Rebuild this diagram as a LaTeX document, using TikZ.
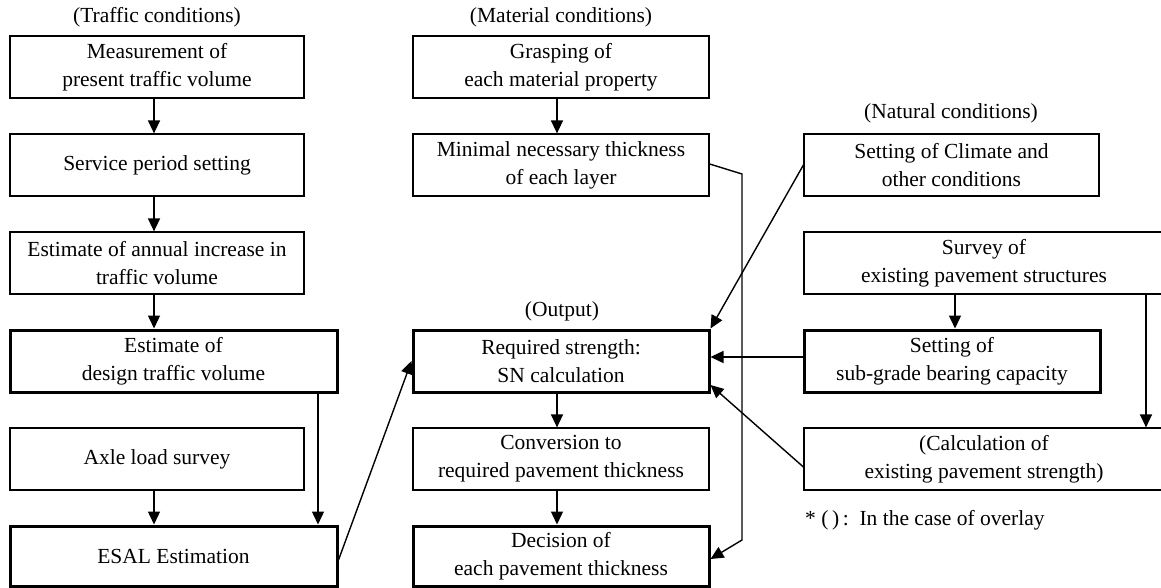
\documentclass[tikz,border=0pt]{standalone}
\usepackage{fontspec}
\setmainfont{Liberation Serif}
\usetikzlibrary{arrows.meta}
\tikzset{
  box/.style={draw, line width=1.2pt, rectangle, inner sep=0pt, align=center,
    font=\fontsize{21.5}{28}\selectfont, minimum height=62pt},
  thickbox/.style={box, line width=3pt},
  lbl/.style={inner sep=0pt, font=\fontsize{21.5}{28}\selectfont},
  arr/.style={line width=1.4pt, -{Triangle[length=13pt,width=12pt]}}
}
\begin{document}
\begin{tikzpicture}[x=1pt,y=-1pt]
\useasboundingbox (0,0) rectangle (1161,588);
\clip (0,0) rectangle (1161,588);
% labels
\node[lbl] (lt) at (157,17) {(Traffic conditions)};
\node[lbl] (lm) at (561,17) {(Material conditions)};
\node[lbl] (ln) at (951,113) {(Natural conditions)};
\node[lbl] (lo) at (562,311) {(Output)};
\node[lbl, anchor=west] (note) at (805,520) {* (\,)\,:\ \ In the case of overlay};
% traffic column
\node[box, minimum width=294pt] (t1) at (157,67) {Measurement of\\present traffic volume};
\node[box, minimum width=294pt] (t2) at (157,165) {Service period setting};
\node[box, minimum width=294pt] (t3) at (157,263) {Estimate of annual increase in\\traffic volume};
\node[thickbox, minimum width=327pt] (t4) at (173.5,361) {Estimate of\\design traffic volume};
\node[box, minimum width=294pt] (t5) at (157,459) {Axle load survey};
\node[thickbox, minimum width=327pt, minimum height=60pt] (t6) at (173.5,556) {ESAL Estimation};
% material / output column
\node[box, minimum width=296pt] (m1) at (561,67) {Grasping of\\each material property};
\node[box, minimum width=296pt] (m2) at (561,165) {Minimal necessary thickness\\of each layer};
\node[thickbox, minimum width=296pt] (m3) at (561,361) {Required strength:\\SN calculation};
\node[box, minimum width=296pt] (m4) at (561,459) {Conversion to\\required pavement thickness};
\node[thickbox, minimum width=296pt, minimum height=60pt] (m5) at (561,556) {Decision of\\each pavement thickness};
% natural column
\node[box, minimum width=295pt] (n1) at (951.5,165) {Setting of Climate and\\other conditions};
\node[box, minimum width=360pt] (n2) at (984,263) {Survey of\\existing pavement structures};
\node[thickbox, minimum width=296pt] (n3) at (952,361) {Setting of\\sub-grade bearing capacity};
\node[box, minimum width=360pt] (n4) at (984,459) {(Calculation of\\existing pavement strength)};
% helper coordinates
\coordinate (c1) at (318,0);
\coordinate (c2) at (955,0);
\coordinate (c3) at (1146,0);
\coordinate (k1) at (742,174);
\coordinate (k2) at (742,540);
% connectors
\draw[arr] ([xshift=-3pt]t1.south) -- ([xshift=-3pt]t2.north);
\draw[arr] ([xshift=-3pt]t2.south) -- ([xshift=-3pt]t3.north);
\draw[arr] ([xshift=-3pt]t3.south) -- ([xshift=-3pt]t4.north west -| t1.south);
\draw[arr] (t4.south -| c1) -- (t6.north -| c1);
\draw[arr] ([xshift=-3pt]t5.south) -- ([xshift=-3pt]t6.north -| t5.south);
\draw[arr] ([yshift=-4pt]t6.east) -- (m3.west);
\draw[arr] ([xshift=-4pt]m1.south) -- ([xshift=-4pt]m2.north);
\draw[arr] ([xshift=-4pt]m3.south) -- ([xshift=-4pt]m4.north);
\draw[arr] ([xshift=-4pt]m4.south) -- ([xshift=-4pt]m5.north);
\draw[arr] ([yshift=1pt]m2.east) -- (k1) -- (k2) -- ([yshift=-3pt]m5.east);
\draw[arr] (n1.west) -- (m3.north east);
\draw[arr] (n2.south -| c2) -- (n3.north -| c2);
\draw[arr] ([yshift=4pt]n3.west) -- ([yshift=4pt]m3.east);
\draw[arr] (n2.south -| c3) -- (n4.north -| c3);
\draw[arr] ([yshift=-8pt]n4.west) -- ([yshift=-24pt]m3.east);
\end{tikzpicture}
\end{document}
